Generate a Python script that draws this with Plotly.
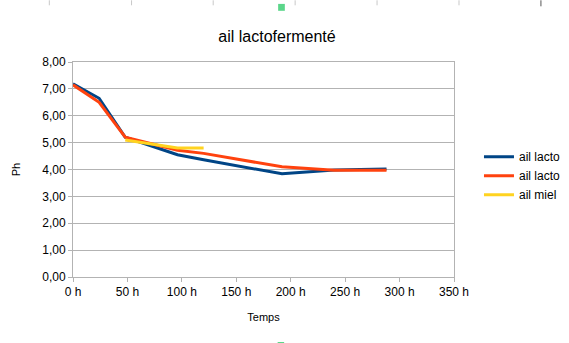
import plotly.graph_objects as go

hours_blue = [0, 24, 48, 96, 120, 192, 240, 288]
ph_blue = [7.19, 6.65, 5.20, 4.55, 4.36, 3.84, 3.98, 4.02]
hours_red = [0, 24, 48, 96, 120, 192, 240, 288]
ph_red = [7.15, 6.50, 5.20, 4.72, 4.60, 4.10, 3.97, 3.97]
hours_yellow = [48, 96, 120]
ph_yellow = [5.10, 4.80, 4.80]
series_names = ["ail lacto", "ail lacto", "ail miel"]

W, H = 569, 343
L, R, T, B = 72.7, 115, 61.7, 66.3
PW, PH = W - L - R, H - T - B

def px(x):
    return (x - L) / PW

def py(y):
    return 1 - (y - T) / PH

font = "Liberation Sans, Arial, sans-serif"

fig = go.Figure()
fig.add_trace(go.Scatter(x=hours_blue, y=ph_blue, mode="lines", name=series_names[0],
                         line=dict(color="#004586", width=3)))
fig.add_trace(go.Scatter(x=hours_red, y=ph_red, mode="lines", name=series_names[1],
                         line=dict(color="#ff420e", width=3)))
fig.add_trace(go.Scatter(x=hours_yellow, y=ph_yellow, mode="lines", name=series_names[2],
                         line=dict(color="#ffd320", width=3)))

shapes = []
# spreadsheet ruler artifacts at the top
for xr in [49, 131.3, 213, 295, 377, 459]:
    shapes.append(dict(type="line", xref="paper", yref="paper", x0=px(xr), x1=px(xr),
                       y0=py(0), y1=py(5), line=dict(color="#c8c8c8", width=1)))
shapes.append(dict(type="line", xref="paper", yref="paper", x0=px(541), x1=px(541),
                   y0=py(0), y1=py(6), line=dict(color="#555555", width=1)))
shapes.append(dict(type="rect", xref="paper", yref="paper", x0=px(278), x1=px(284.7),
                   y0=py(3.6), y1=py(10.5), fillcolor="#5bd68a", line=dict(width=0)))
shapes.append(dict(type="rect", xref="paper", yref="paper", x0=px(277.5), x1=px(284),
                   y0=py(341.7), y1=py(343), fillcolor="#5bd68a", line=dict(width=0)))

fig.update_layout(
    width=W, height=H,
    margin=dict(l=L, r=R, t=T, b=B, pad=0, autoexpand=False),
    paper_bgcolor="white", plot_bgcolor="white",
    separators=", ",
    font=dict(family=font, size=12, color="#000000"),
    title=dict(text="ail lactofermenté", x=277 / W, xanchor="center", xref="container",
               y=1 - 36 / H, yanchor="middle", yref="container",
               font=dict(size=16, family=font, color="#000000")),
    showlegend=True,
    legend=dict(x=px(479), y=py(142), xanchor="left", yanchor="top",
                font=dict(size=12, family=font), tracegroupgap=0,
                itemwidth=30, bgcolor="rgba(0,0,0,0)"),
    shapes=shapes,
    xaxis=dict(range=[0, 350], dtick=50, tick0=0, ticksuffix=" h",
               showgrid=False, showline=True, linecolor="#b3b3b3", linewidth=1,
               mirror=True, ticks="outside", ticklen=4, tickcolor="#b3b3b3",
               zeroline=False, tickfont=dict(size=12),
               title=dict(text="Temps", font=dict(size=11), standoff=14)),
    yaxis=dict(range=[0, 8], dtick=1, tick0=0, tickformat=".2f",
               showgrid=True, gridcolor="#b3b3b3", gridwidth=1,
               showline=True, linecolor="#b3b3b3", linewidth=1, mirror=True,
               ticks="outside", ticklen=4, tickcolor="#b3b3b3",
               zeroline=False, tickfont=dict(size=12),
               title=dict(text="Ph", font=dict(size=11), standoff=19)),
)

fig.write_html("out.html")
